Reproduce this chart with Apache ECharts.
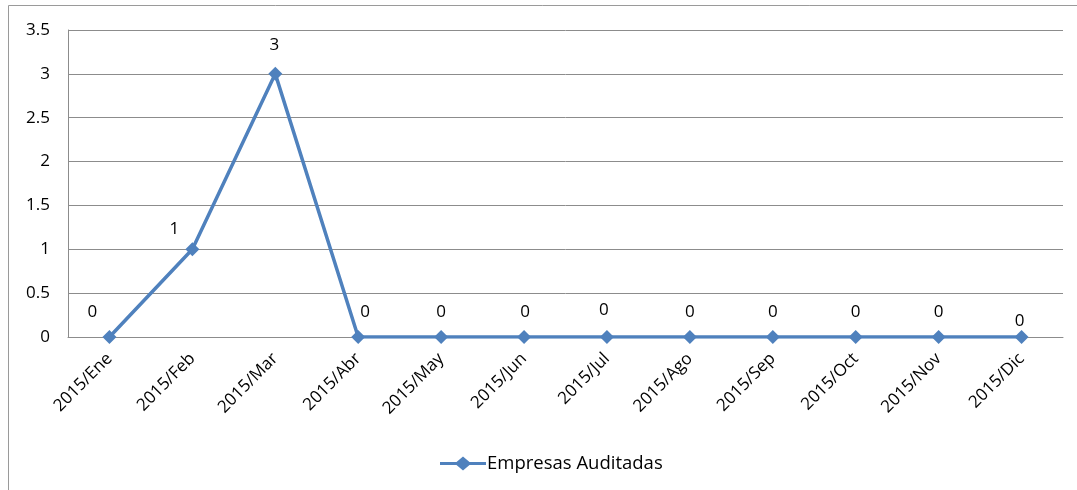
<!DOCTYPE html>
<html>
<head>
<meta charset="utf-8">
<script src="https://cdn.jsdelivr.net/npm/echarts@6/dist/echarts.min.js"></script>
<style>
html,body{margin:0;padding:0;background:#fff;}
#chart{width:1077px;height:490px;}
</style>
</head>
<body>
<div id="chart"></div>
<script>
const categories = ['2015/Ene','2015/Feb','2015/Mar','2015/Abr','2015/May','2015/Jun','2015/Jul','2015/Ago','2015/Sep','2015/Oct','2015/Nov','2015/Dic'];
const empresasAuditadas = [0, 1, 3, 0, 0, 0, 0, 0, 0, 0, 0, 0];
const seriesName = 'Empresas Auditadas';
const yTicks = [0, 0.5, 1, 1.5, 2, 2.5, 3, 3.5];

// small label nudges (style only)
const labelNudges = [[-17,0],[-18,4],[-1,-4],[7,0],[0,0],[1,0],[-3,-2],[0,0],[0,0],[0,0],[0,0],[-2,9]];

const font = '"Open Sans", "Liberation Sans", sans-serif';
const fs = 17;
const chart = echarts.init(document.getElementById('chart'));
const option = {
  animation: false,
  backgroundColor: '#fff',
  graphic: [
    {type:'line', shape:{x1:8.5,y1:5.5,x2:1077,y2:5.5}, style:{stroke:'#9a9a9a', lineWidth:1}},
    {type:'line', shape:{x1:8.5,y1:5.5,x2:8.5,y2:490}, style:{stroke:'#9a9a9a', lineWidth:1}}
  ],
  grid: {left: 68, right: 14, top: 30, bottom: 153, containLabel: false},
  xAxis: {
    type: 'category',
    data: categories,
    boundaryGap: true,
    axisLine: {lineStyle: {color: '#8c8c8c', width: 1}},
    axisTick: {show: false},
    axisLabel: {rotate: 45, margin: 19, color: '#000', fontSize: fs, fontFamily: font, interval: 0}
  },
  yAxis: {
    type: 'value',
    min: 0, max: 3.5, interval: 0.5,
    axisLine: {show: true, lineStyle: {color: '#8c8c8c', width: 1}},
    axisTick: {show: false},
    splitLine: {lineStyle: {color: '#8c8c8c', width: 1}},
    axisLabel: {color: '#000', fontSize: fs, fontFamily: font, margin: 18,
      formatter: v => yTicks.includes(v) ? String(v) : ''}
  },
  legend: {
    bottom: 12, left: 435,
    itemWidth: 46, itemHeight: 14,
    itemGap: 2,
    textStyle: {color: '#000', fontSize: 18.5, fontFamily: font, padding: [0,0,0,-4]},
    data: [{name: seriesName, icon: 'path://M0,5.5L16.5,5.5L23,0L29.5,5.5L46,5.5L46,8.5L29.5,8.5L23,14L16.5,8.5L0,8.5Z'}]
  },
  series: [{
    name: seriesName,
    type: 'line',
    data: empresasAuditadas.map((v, i) => ({
      value: v,
      label: {offset: labelNudges[i]}
    })),
    symbol: 'diamond',
    symbolSize: 14,
    lineStyle: {color: '#4F81BD', width: 3.5},
    itemStyle: {color: '#4F81BD'},
    label: {show: true, position: 'top', distance: 9, color: '#000', fontSize: fs, fontFamily: font}
  }]
};
chart.setOption(option);
</script>
</body>
</html>
